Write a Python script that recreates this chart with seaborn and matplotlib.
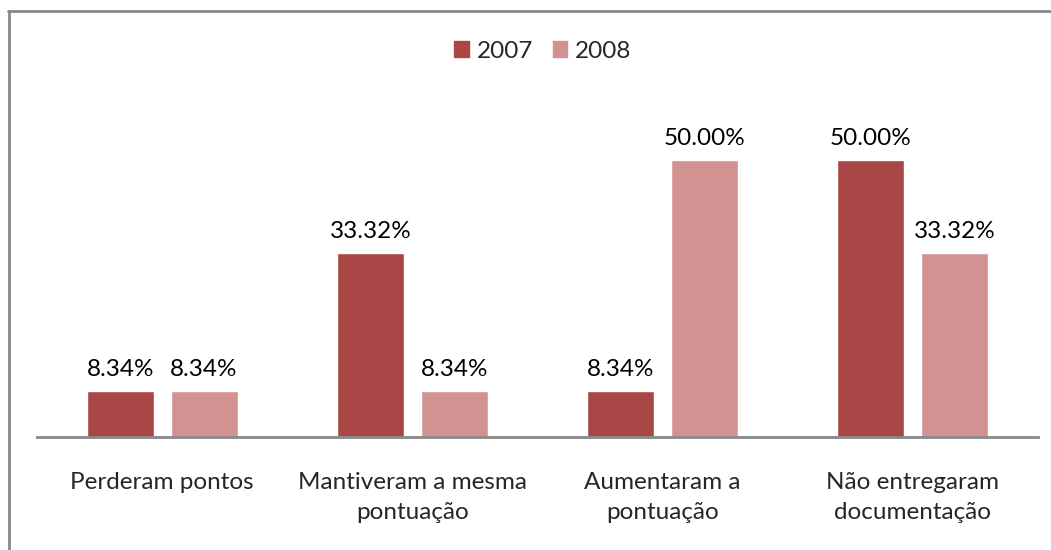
import pandas as pd
import matplotlib
matplotlib.use("Agg")
import matplotlib.pyplot as plt
from matplotlib.lines import Line2D
from matplotlib.patches import Patch
import seaborn as sns

# ─── Data ────────────────────────────────────────────────────────────────────
categorias = ["Perderam pontos", "Mantiveram a mesma\npontuação",
              "Aumentaram a\npontuação", "Não entregaram\ndocumentação"]
anos = ["2007", "2008"]
valores_2007 = [8.34, 33.32, 8.34, 50.00]
valores_2008 = [8.34, 8.34, 50.00, 33.32]

df = pd.DataFrame({
    "categoria": categorias * 2,
    "ano": [anos[0]] * 4 + [anos[1]] * 4,
    "valor": valores_2007 + valores_2008,
})

CORES = ["#A84745", "#D29291"]
GRID_COL = "#888888"
FS = 17.5

sns.set_style("white")
plt.rcParams["font.family"] = ["Lato", "DejaVu Sans"]

fig = plt.figure(figsize=(10.51, 5.5), dpi=100)
ax = fig.add_axes([37 / 1051, 1 - 437 / 550, (1038 - 37) / 1051, (437 - 105) / 550])

sns.barplot(data=df, x="categoria", y="valor", hue="ano", palette=CORES,
            width=0.67, gap=0.2, ax=ax, legend=False, saturation=1)

for cont in ax.containers:
    ax.bar_label(cont, labels=[f"{v:.2f}%" for v in cont.datavalues],
                 padding=8, fontsize=FS, color="black")

ax.set_ylim(0, 60)
ax.set_xlim(-0.5, 3.5)
ax.set_xlabel(""); ax.set_ylabel("")
ax.set_yticks([])
for s in ["top", "right", "left"]:
    ax.spines[s].set_visible(False)
ax.spines["bottom"].set_color(GRID_COL)
ax.spines["bottom"].set_linewidth(2)
ax.tick_params(axis="x", length=0, pad=25, labelsize=FS)
for lbl in ax.get_xticklabels():
    lbl.set_linespacing(1.55)
    lbl.set_va("top")

fig.legend(handles=[Patch(color=CORES[0], label=anos[0]),
                    Patch(color=CORES[1], label=anos[1])],
           loc="center", bbox_to_anchor=(543 / 1051, 1 - 51 / 550), ncol=2,
           frameon=False, fontsize=FS, handlelength=0.6, handleheight=0.6,
           handletextpad=0.33, columnspacing=0.8)

# outer frame (only top and left edges visible in the picture)
fig.add_artist(Line2D([9 / 1051, 9 / 1051], [0, 1 - 11 / 550],
                      color=GRID_COL, lw=2, transform=fig.transFigure))
fig.add_artist(Line2D([8 / 1051, 1], [1 - 11 / 550, 1 - 11 / 550],
                      color=GRID_COL, lw=2, transform=fig.transFigure))

fig.savefig("out.png", dpi=100, facecolor="white")
